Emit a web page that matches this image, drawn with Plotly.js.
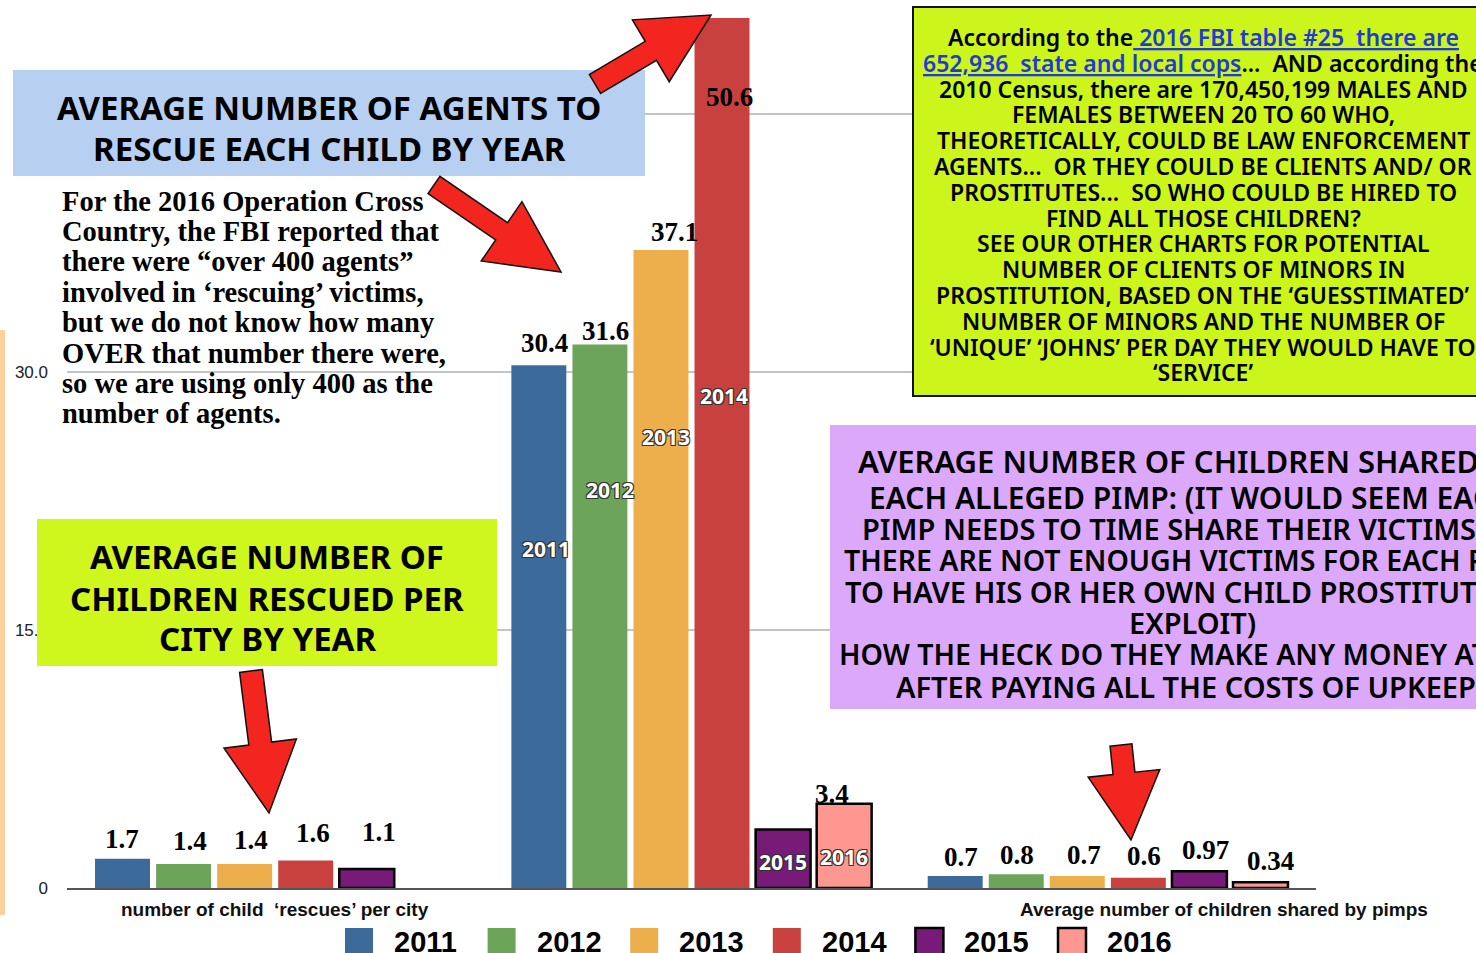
<!DOCTYPE html>
<html>
<head>
<meta charset="utf-8">
<script src="https://cdn.plot.ly/plotly-3.0.1.min.js"></script>
<style>html,body{margin:0;padding:0;background:#fff;}#chart{width:1476px;height:953px;}</style>
</head>
<body>
<div id="chart"></div>
<script>
// ---------------- DATA ----------------
const categories = ['rescues per city', 'agents per child', 'children per pimp'];
const categoryLabels = ['number of child \u00a0\u2018rescues\u2019 per city', '', 'Average number of children shared by pimps'];
const years = ['2011', '2012', '2013', '2014', '2015', '2016'];
const v2011 = [1.7, 30.4, 0.7];
const v2012 = [1.4, 31.6, 0.8];
const v2013 = [1.4, 37.1, 0.7];
const v2014 = [1.6, 50.6, 0.6];
const v2015 = [1.1, 3.4, 0.97];
const v2016 = [null, 4.9, 0.34];
const lab2011 = ['1.7', '30.4', '0.7'];
const lab2012 = ['1.4', '31.6', '0.8'];
const lab2013 = ['1.4', '37.1', '0.7'];
const lab2014 = ['1.6', '50.6', '0.6'];
const lab2015 = ['1.1', '3.4', '0.97'];
const lab2016 = ['', '', '0.34'];
const yTickVals = [0, 15, 30, 45];
const yTickText = ['0', '15.0', '30.0', '45.0'];

// ---------------- STYLE ----------------
const colors = ['#3c6b9b', '#6ca55a', '#ecaf4b', '#c9413f', '#781a78', '#fe9790'];
const outlined = [false, false, false, false, true, true];
const values = [v2011, v2012, v2013, v2014, v2015, v2016];
const labels = [lab2011, lab2012, lab2013, lab2014, lab2015, lab2016];
// label nudges [dx, dy] in px relative to bar centre / top
const nudges = [
  [[0, 20], [6, 22], [6, 19]],
  [[6, 23], [6, 14], [1, 19]],
  [[6, 24], [14, 18], [7, 21]],
  [[7, 27], [7, -79], [6, 22]],
  [[12, 37], [49, 36], [6, 21]],
  [[0, 20], [0, 20], [10, 21]]
];
const yearLabelPos = [[7, 549], [10, 490], [5, 437], [2, 396], [0, 862], [0, 857]];

const Lp = 67, Rp = 1316, Tp = 11, Bp = 888;
const px = x => (x - Lp) / (Rp - Lp);
const py = y => (Bp - y) / (Bp - Tp);
const slot = 61.07;
const slotShift = i => (i - 2.5) * slot;

const COMIC = 'Noto Sans, sans-serif';
const SERIF = 'Liberation Serif, Times New Roman, serif';
const SANS = 'Liberation Sans, Arial, sans-serif';

const traces = years.map((yr, i) => ({
  type: 'bar',
  name: yr,
  x: categories,
  y: values[i],
  marker: {
    color: colors[i],
    line: { color: '#000', width: outlined[i] ? 2.5 : 0 }
  },
  showlegend: false,
  hoverinfo: 'x+y+name'
}));

const shapes = [];
const annotations = [];

// left orange strip
shapes.push({ type: 'rect', xref: 'paper', yref: 'paper', x0: px(0), x1: px(5), y0: py(915), y1: py(330), fillcolor: '#ffd09c', line: { width: 0 }, layer: 'above' });

// boxes
function box(x0, y0, x1, y1, fill, border) {
  shapes.push({ type: 'rect', xref: 'paper', yref: 'paper', x0: px(x0), x1: px(x1), y0: py(y1), y1: py(y0),
    fillcolor: fill, line: { color: border || fill, width: border ? 2 : 0 }, layer: 'above' });
}
box(13, 70, 645, 176, '#b7cff0');
box(37, 519, 497, 666, '#d0f71d');
box(913, 7, 1495, 396, '#ccf51b', '#111');
box(830, 425, 1556, 709, '#dca8fa');

// arrows
function arrow(tail, tip, shaftW, headW, headL) {
  const dx = tip[0] - tail[0], dy = tip[1] - tail[1], len = Math.hypot(dx, dy);
  const ux = dx / len, uy = dy / len, nx = -uy, ny = ux;
  const bx = tip[0] - ux * headL, by = tip[1] - uy * headL;
  const pts = [
    [tail[0] + nx * shaftW / 2, tail[1] + ny * shaftW / 2],
    [bx + nx * shaftW / 2, by + ny * shaftW / 2],
    [bx + nx * headW / 2, by + ny * headW / 2],
    tip,
    [bx - nx * headW / 2, by - ny * headW / 2],
    [bx - nx * shaftW / 2, by - ny * shaftW / 2],
    [tail[0] - nx * shaftW / 2, tail[1] - ny * shaftW / 2]
  ];
  shapes.push({ type: 'path', xref: 'paper', yref: 'paper', layer: 'above',
    path: 'M' + pts.map(p => px(p[0]).toFixed(5) + ',' + py(p[1]).toFixed(5)).join('L') + 'Z',
    fillcolor: '#f2261f', line: { color: '#111', width: 1.5 } });
}
arrow([595, 84], [711, 15], 22, 72, 70);
arrow([434, 185], [561, 272], 21, 72, 72);
arrow([251, 671], [269, 813], 23, 73, 70);
arrow([1121, 745], [1131, 840], 22, 72, 67);

// multi-line text helper (each line separate for exact spacing)
function lines(arr, cx, ys, font, anchor) {
  arr.forEach((t, k) => {
    annotations.push({ xref: 'paper', yref: 'paper', x: px(cx), y: py(ys[k]),
      xanchor: anchor || 'center', yanchor: 'middle', showarrow: false, text: t,
      font: Array.isArray(font) ? font[k] : font });
  });
}
const seq = (y0, step, n) => Array.from({ length: n }, (_, k) => y0 + k * step);

lines(['AVERAGE NUMBER OF AGENTS TO', 'RESCUE EACH CHILD BY YEAR'], 329, [107, 148],
  { family: COMIC, size: 33, color: '#000', weight: 700 });
lines(['AVERAGE NUMBER OF', 'CHILDREN RESCUED PER', 'CITY BY YEAR'], 267, [556, 598, 638],
  { family: COMIC, size: 33, color: '#000', weight: 700 });

const link = s => '<span style="color:#1f3ad8;text-decoration:underline">' + s + '</span>';
lines([
  'According to the' + link(' 2016 FBI table #25 \u00a0there are'),
  link('652,936 \u00a0state and local cops') + '... \u00a0AND according the',
  '2010 Census, there are 170,450,199 MALES AND',
  'FEMALES BETWEEN 20 TO 60 WHO,',
  'THEORETICALLY, COULD BE LAW ENFORCEMENT',
  'AGENTS... \u00a0OR THEY COULD BE CLIENTS AND/ OR',
  'PROSTITUTES... \u00a0SO WHO COULD BE HIRED TO',
  'FIND ALL THOSE CHILDREN?',
  'SEE OUR OTHER CHARTS FOR POTENTIAL',
  'NUMBER OF CLIENTS OF MINORS IN',
  'PROSTITUTION, BASED ON THE \u2018GUESSTIMATED\u2019',
  'NUMBER OF MINORS AND THE NUMBER OF',
  '\u2018UNIQUE\u2019 \u2018JOHNS\u2019 PER DAY THEY WOULD HAVE TO',
  '\u2018SERVICE\u2019'
], 1203, seq(37, 25.8, 14), { family: COMIC, size: 23, color: '#000', weight: 600 });

const pf1 = { family: COMIC, size: 31, color: '#000', weight: 600 };
const pf1b = { family: COMIC, size: 30, color: '#000', weight: 600 };
const pf2 = { family: COMIC, size: 29, color: '#000', weight: 600 };
const pf2b = { family: COMIC, size: 28.5, color: '#000', weight: 600 };
lines([
  'AVERAGE NUMBER OF CHILDREN SHARED BY',
  'EACH ALLEGED PIMP: (IT WOULD SEEM EACH',
  'PIMP NEEDS TO TIME SHARE THEIR VICTIMS SO',
  'THERE ARE NOT ENOUGH VICTIMS FOR EACH PIMP',
  'TO HAVE HIS OR HER OWN CHILD PROSTITUTE TO',
  'EXPLOIT)',
  'HOW THE HECK DO THEY MAKE ANY MONEY AT ALL',
  'AFTER PAYING ALL THE COSTS OF UPKEEP?'
], 1192, [461, 497, 528, 560, 591, 622, 654, 686], [pf1, pf1b, pf2, pf2b, pf2, pf2, pf2b, pf2]);

lines([
  'For the 2016 Operation Cross',
  'Country, the FBI reported that',
  'there were \u201cover 400 agents\u201d',
  'involved in \u2018rescuing\u2019 victims,',
  'but we do not know how many',
  'OVER that number there were,',
  'so we are using only 400 as the',
  'number of agents.'
], 60, seq(201, 30.4, 8), { family: SERIF, size: 28.5, color: '#000', weight: 700 }, 'left');

// value labels
years.forEach((yr, i) => {
  categories.forEach((c, j) => {
    const t = labels[i][j];
    if (!t || values[i][j] == null) return;
    annotations.push({ xref: 'x', yref: 'y', x: c, y: values[i][j],
      xshift: slotShift(i) + nudges[i][j][0], yshift: nudges[i][j][1],
      xanchor: 'center', yanchor: 'middle', showarrow: false, text: '<b>' + t + '</b>',
      font: { family: SERIF, size: 27, color: '#000' } });
  });
});

// year labels inside the middle-group bars
years.forEach((yr, i) => {
  annotations.push({ xref: 'x', yref: 'paper', x: categories[1], y: py(yearLabelPos[i][1]),
    xshift: slotShift(i) + yearLabelPos[i][0], xanchor: 'center', yanchor: 'middle', showarrow: false,
    text: yr, font: { family: COMIC, size: 21, color: '#fff', weight: 700,
      shadow: '1px 1px 0 #333, -1px -1px 0 #333, 1px -1px 0 #333, -1px 1px 0 #333' } });
});

// category labels
const catShift = [0, 0, 116];
categories.forEach((c, j) => {
  if (!categoryLabels[j]) return;
  annotations.push({ xref: 'x', yref: 'paper', x: c, y: py(910), xshift: catShift[j],
    xanchor: 'center', yanchor: 'middle', showarrow: false, text: '<b>' + categoryLabels[j] + '</b>',
    font: { family: SANS, size: 19, color: '#111' } });
});

// legend (manual, large swatches)
years.forEach((yr, i) => {
  const x0 = 345 + 142.6 * i;
  shapes.push({ type: 'rect', xref: 'paper', yref: 'paper', layer: 'above',
    x0: px(x0), x1: px(x0 + 28), y0: py(962), y1: py(928),
    fillcolor: colors[i], line: { color: '#000', width: outlined[i] ? 2.5 : 0 } });
  annotations.push({ xref: 'paper', yref: 'paper', x: px(x0 + 47), y: py(942),
    xanchor: 'left', yanchor: 'middle', showarrow: false, text: '<b>' + yr + '</b>',
    font: { family: SANS, size: 29, color: '#000' } });
});

const layout = {
  width: 1476, height: 953,
  margin: { l: Lp, r: 1476 - Rp, t: Tp, b: 953 - Bp, pad: 0 },
  paper_bgcolor: '#fff', plot_bgcolor: '#fff',
  barmode: 'group', bargap: 0.12, bargroupgap: 0.1,
  showlegend: false,
  xaxis: { type: 'category', range: [-0.5, 2.5], autorange: false, showline: true, linecolor: '#555', linewidth: 2,
    showticklabels: false, ticks: '', showgrid: false, zeroline: false, fixedrange: true },
  yaxis: { range: [0, 51], autorange: false, tickvals: yTickVals, ticktext: yTickText, ticks: '',
    showgrid: true, gridcolor: '#c4c4c4', gridwidth: 1.5, zeroline: false, showline: false,
    ticklabelstandoff: 18, tickfont: { family: SANS, size: 17, color: '#222' }, fixedrange: true },
  shapes: shapes,
  annotations: annotations
};

Plotly.newPlot('chart', traces, layout, { displayModeBar: false, staticPlot: true });
</script>
</body>
</html>
